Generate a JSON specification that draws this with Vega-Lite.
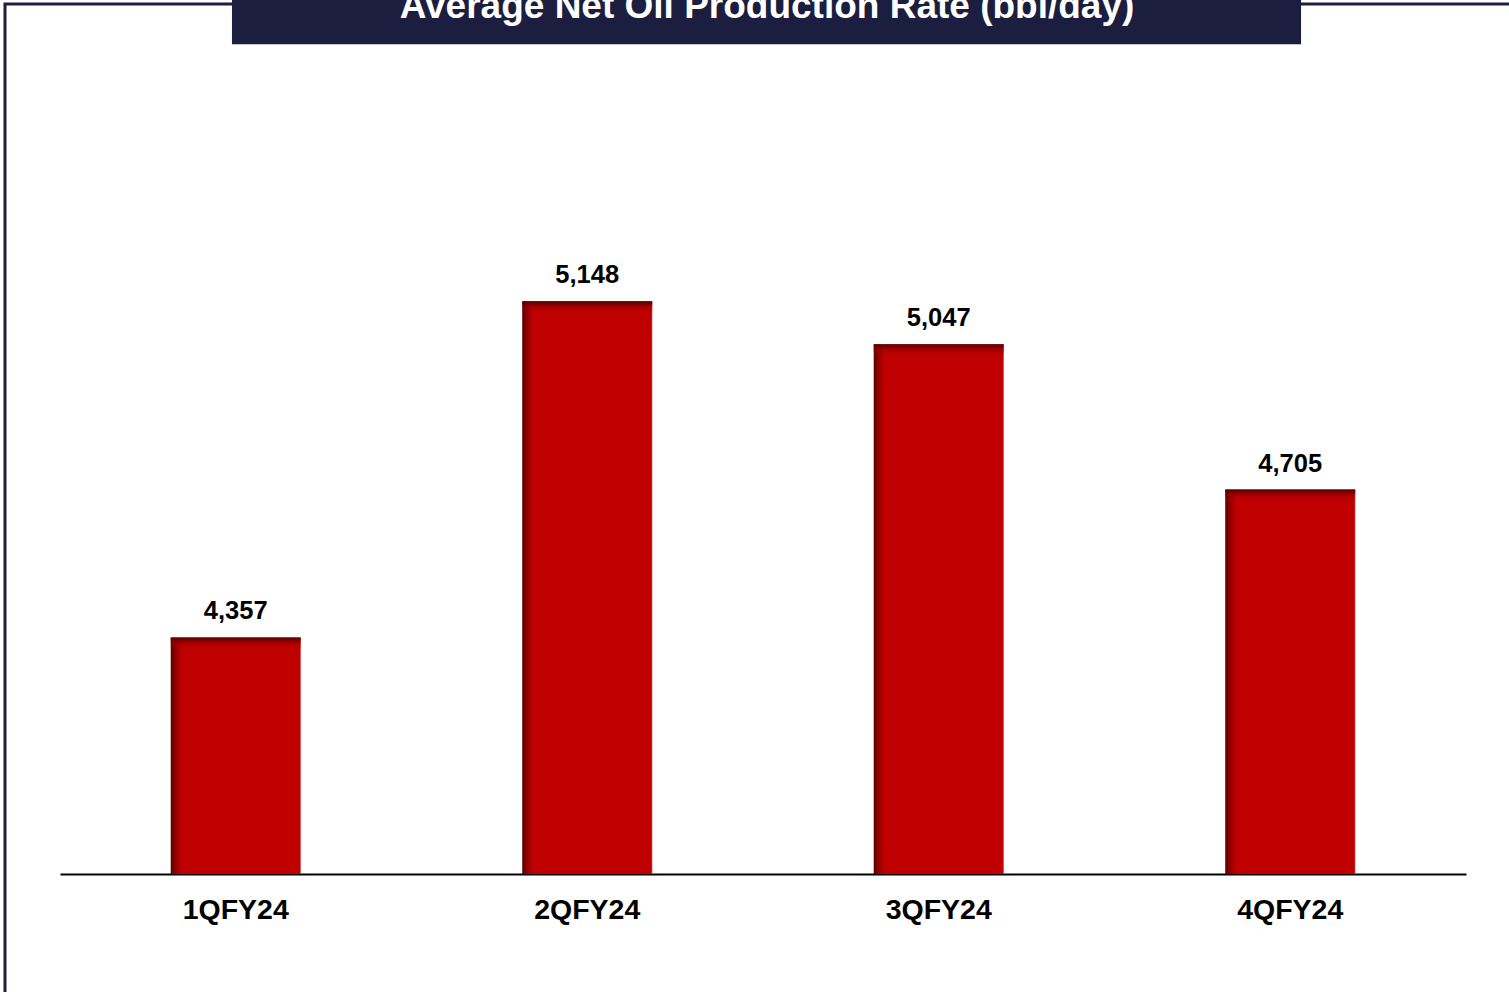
{
  "$schema": "https://vega.github.io/schema/vega-lite/v6.json",
  "width": 1514,
  "height": 998,
  "autosize": {"type": "none"},
  "padding": {"left": 5, "top": 4, "right": -10, "bottom": -10},
  "background": "white",
  "view": {"stroke": "#1B1E3E", "strokeWidth": 3, "fill": null},
  "data": {
    "values": [
      {"quarter": "1QFY24", "value": 4357},
      {"quarter": "2QFY24", "value": 5148},
      {"quarter": "3QFY24", "value": 5047},
      {"quarter": "4QFY24", "value": 4705}
    ]
  },
  "layer": [
    {
      "mark": {
        "type": "bar",
        "fill": {
          "gradient": "linear",
          "x1": 0, "y1": 0, "x2": 1, "y2": 0,
          "stops": [
            {"offset": 0, "color": "#580000"},
            {"offset": 0.03, "color": "#8a0000"},
            {"offset": 0.085, "color": "#C00000"},
            {"offset": 0.99, "color": "#C00000"},
            {"offset": 1, "color": "#d23a3a"}
          ]
        }
      },
      "encoding": {
        "x": {
          "field": "quarter",
          "type": "nominal",
          "scale": {"range": [55, 1461], "paddingInner": 0.63, "paddingOuter": 0.315},
          "axis": {
            "title": null,
            "orient": "bottom",
            "offset": -128,
            "ticks": false,
            "grid": false,
            "domainColor": "#000000",
            "domainWidth": 2,
            "labelAngle": 0,
            "labelFont": "Liberation Sans",
            "labelFontSize": 28.5,
            "labelFontWeight": "bold",
            "labelColor": "#000000",
            "labelPadding": 21
          }
        },
        "y": {"field": "value", "type": "quantitative", "axis": null, "scale": {"domain": [3800, 5622], "range": [870, 96], "nice": false, "zero": false}},
        "y2": {"datum": 3800}
      }
    },
    {
      "mark": {
        "type": "bar",
        "y2Offset": 12,
        "fill": {
          "gradient": "linear",
          "x1": 0, "y1": 0, "x2": 0, "y2": 1,
          "stops": [
            {"offset": 0, "color": "rgba(85,0,0,1)"},
            {"offset": 0.4, "color": "rgba(130,0,0,0.6)"},
            {"offset": 1, "color": "rgba(192,0,0,0)"}
          ]
        }
      },
      "encoding": {
        "x": {"field": "quarter", "type": "nominal"},
        "y": {"field": "value", "type": "quantitative"},
        "y2": {"field": "value"}
      }
    },
    {
      "mark": {
        "type": "text",
        "baseline": "alphabetic",
        "dy": -18,
        "font": "Liberation Sans",
        "fontSize": 25.5,
        "fontWeight": "bold",
        "color": "#000000"
      },
      "encoding": {
        "x": {"field": "quarter", "type": "nominal"},
        "y": {"field": "value", "type": "quantitative"},
        "text": {"field": "value", "type": "quantitative", "format": ",d"}
      }
    },
    {
      "data": {"values": [{"title": "Average Net Oil Production Rate (bbl/day)"}]},
      "mark": {"type": "rect", "fill": "#000000", "opacity": 0.1, "xOffset": 4, "yOffset": 3},
      "encoding": {
        "x": {"datum": "1QFY24", "type": "nominal", "bandPosition": 0.471},
        "x2": {"datum": "4QFY24", "bandPosition": 0.583},
        "y": {"datum": 5881, "type": "quantitative"},
        "y2": {"datum": 5753}
      }
    },
    {
      "data": {"values": [{"title": "Average Net Oil Production Rate (bbl/day)"}]},
      "mark": {"type": "rect", "fill": "#1B1E3E"},
      "encoding": {
        "x": {"datum": "1QFY24", "type": "nominal", "bandPosition": 0.471},
        "x2": {"datum": "4QFY24", "bandPosition": 0.583},
        "y": {"datum": 5881, "type": "quantitative"},
        "y2": {"datum": 5753}
      }
    },
    {
      "data": {"values": [{"title": "Average Net Oil Production Rate (bbl/day)"}]},
      "mark": {
        "type": "text",
        "baseline": "alphabetic",
        "align": "center",
        "dx": 5,
        "font": "Liberation Sans",
        "fontSize": 37,
        "fontWeight": "bold",
        "color": "#FFFFFF"
      },
      "encoding": {
        "y": {"datum": 5815, "type": "quantitative"},
        "text": {"field": "title", "type": "nominal"}
      }
    }
  ]
}
